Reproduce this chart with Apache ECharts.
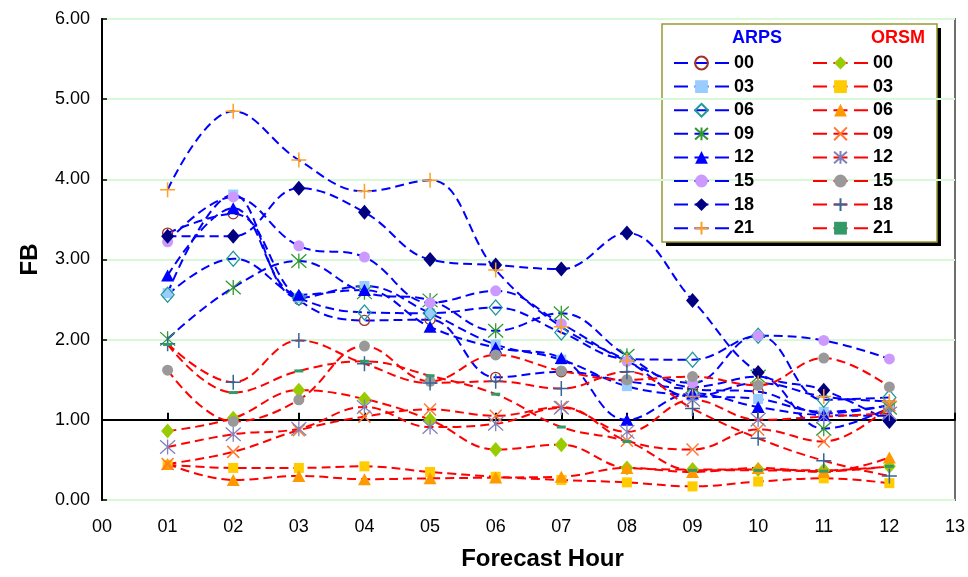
<!DOCTYPE html>
<html>
<head>
<meta charset="utf-8">
<script src="https://cdn.jsdelivr.net/npm/echarts@6/dist/echarts.min.js"></script>
<style>
  html, body { margin: 0; padding: 0; background: #fff; }
  #chart { width: 968px; height: 577px; }
</style>
</head>
<body>
<div id="chart"></div>
<script>
// Forecast hours shown on the horizontal axis
const hours = [1, 2, 3, 4, 5, 6, 7, 8, 9, 10, 11, 12];
const initTimes = ['00', '03', '06', '09', '12', '15', '18', '21'];

// FB values, ARPS model, one array per initialisation time
const arps00 = [3.33, 3.57, 2.50, 2.24, 2.25, 1.53, 1.60, 1.48, 1.38, 1.35, 1.08, 1.18];
const arps03 = [2.58, 3.81, 2.52, 2.67, 2.33, 1.94, 1.75, 1.42, 1.30, 1.26, 1.10, 1.18];
const arps06 = [2.56, 3.01, 2.52, 2.34, 2.33, 2.40, 2.09, 1.76, 1.75, 2.05, 1.25, 1.28];
const arps09 = [2.01, 2.65, 2.98, 2.59, 2.49, 2.11, 2.33, 1.80, 1.41, 1.54, 0.89, 1.15];
const arps12 = [2.80, 3.64, 2.56, 2.62, 2.16, 1.90, 1.77, 1.00, 1.33, 1.16, 1.06, 1.05];
const arps15 = [3.22, 3.78, 3.17, 3.03, 2.46, 2.61, 2.20, 1.73, 1.46, 2.05, 1.99, 1.76];
const arps18 = [3.29, 3.29, 3.89, 3.59, 3.00, 2.93, 2.88, 3.33, 2.49, 1.59, 1.37, 0.98];
const arps21 = [3.87, 4.85, 4.24, 3.85, 3.99, 2.87, 2.16, 1.74, 1.29, 1.46, 1.29, 1.23];

// FB values, ORSM model
const orsm00 = [0.86, 1.02, 1.37, 1.26, 1.00, 0.63, 0.69, 0.40, 0.38, 0.38, 0.37, 0.42];
const orsm03 = [0.44, 0.40, 0.40, 0.42, 0.35, 0.29, 0.25, 0.22, 0.17, 0.23, 0.27, 0.21];
const orsm06 = [0.45, 0.25, 0.30, 0.26, 0.27, 0.28, 0.29, 0.40, 0.35, 0.40, 0.35, 0.53];
const orsm09 = [0.45, 0.60, 0.87, 1.04, 1.13, 1.05, 1.16, 0.74, 0.63, 0.88, 0.73, 1.18];
const orsm12 = [0.66, 0.82, 0.89, 1.16, 0.91, 0.95, 1.15, 0.85, 1.25, 1.00, 1.04, 1.08];
const orsm15 = [1.62, 0.98, 1.25, 1.92, 1.48, 1.81, 1.61, 1.50, 1.54, 1.43, 1.77, 1.41];
const orsm18 = [1.95, 1.47, 1.99, 1.70, 1.46, 1.48, 1.39, 1.60, 1.14, 0.77, 0.49, 0.30];
const orsm21 = [1.94, 1.34, 1.61, 1.73, 1.55, 1.32, 0.91, 0.73, 0.37, 0.37, 0.36, 0.42];

const arpsValues = [arps00, arps03, arps06, arps09, arps12, arps15, arps18, arps21];
const orsmValues = [orsm00, orsm03, orsm06, orsm09, orsm12, orsm15, orsm18, orsm21];

// Marker shapes
const PLUS = 'path://M10,0L10,20M0,10L20,10';
const CROSS = 'path://M0,0L20,20M0,20L20,0';
const ASTER = 'path://M10,0L10,20M1,1L19,19M1,19L19,1';
const DASH = 'path://M0,0L30,0L30,10L0,10Z';

function markerStyle(kind, color) {
  switch (kind) {
    case 'ring':    return { symbol: 'circle', size: 10, item: { color: 'none', borderColor: color, borderWidth: 1.3 } };
    case 'hdiamond':return { symbol: 'diamond', size: [13, 15], item: { color: 'none', borderColor: color, borderWidth: 1.3 } };
    case 'square':  return { symbol: 'rect', size: 10, item: { color: color } };
    case 'diamond': return { symbol: 'diamond', size: [13, 15], item: { color: color } };
    case 'triangle':return { symbol: 'triangle', size: [13, 12], item: { color: color } };
    case 'dot':     return { symbol: 'circle', size: 11, item: { color: color } };
    case 'plus':    return { symbol: PLUS, size: 15, item: { color: 'none', borderColor: color, borderWidth: 1.5 } };
    case 'cross':   return { symbol: CROSS, size: 12, item: { color: 'none', borderColor: color, borderWidth: 1.5 } };
    case 'aster':   return { symbol: ASTER, size: 15, item: { color: 'none', borderColor: color, borderWidth: 1.3 } };
    case 'dash':    return { symbol: DASH, size: [9, 3], item: { color: color } };
  }
}

const arpsMarks = [
  ['ring', '#a0302a'], ['square', '#99ccff'], ['hdiamond', '#22999a'], ['aster', '#2e9a2e'],
  ['triangle', '#0000ff'], ['dot', '#cc99ff'], ['diamond', '#000080'], ['plus', '#ffa020']
];
const orsmMarks = [
  ['diamond', '#99cc00'], ['square', '#ffcc00'], ['triangle', '#ff9900'], ['cross', '#ff7a30'],
  ['aster', '#8080bb'], ['dot', '#999999'], ['plus', '#336699'], ['dash', '#339966']
];

function buildSeries(prefix, values, marks, lineColor) {
  return values.map((vals, i) => {
    const m = markerStyle(marks[i][0], marks[i][1]);
    return {
      name: prefix + ' ' + initTimes[i],
      type: 'line',
      smooth: 0.4,
      xAxisIndex: 0,
      yAxisIndex: 0,
      data: hours.map((h, k) => [h, vals[k]]),
      symbol: m.symbol,
      symbolSize: m.size,
      showAllSymbol: true,
      itemStyle: m.item,
      lineStyle: { color: lineColor, width: 2, type: [9, 5] },
      emphasis: { disabled: true },
      animation: false
    };
  });
}

const series = [
  ...buildSeries('ARPS', arpsValues, arpsMarks, '#0000ff'),
  ...buildSeries('ORSM', orsmValues, orsmMarks, '#ff0000')
];

const legendCommon = {
  orient: 'vertical',
  top: 48,
  itemWidth: 55,
  itemHeight: 16,
  itemGap: 3.6,
  selectedMode: false,
  symbolKeepAspect: true,
  formatter: name => name.slice(-2),
  lineStyle: { width: 2, type: [14, 6.5] },
  textStyle: { fontFamily: 'Arial, "Liberation Sans", sans-serif', fontWeight: 'bold', fontSize: 18, color: '#000', lineHeight: 20 }
};

const chart = echarts.init(document.getElementById('chart'), null, { renderer: 'canvas' });
chart.setOption({
  backgroundColor: '#fff',
  animation: false,
  grid: { left: 102, right: 11, top: 19, bottom: 77, show: true, borderColor: '#6e6e6e', borderWidth: 2 },
  xAxis: [
    {
      type: 'value', min: 0, max: 13, interval: 1,
      name: 'Forecast Hour', nameLocation: 'middle', nameGap: 47,
      nameTextStyle: { fontFamily: 'Arial, "Liberation Sans", sans-serif', fontWeight: 'bold', fontSize: 24, color: '#000', padding: [0, 0, 0, 28] },
      axisLine: { show: false, onZero: false },
      axisTick: { show: false },
      splitLine: { show: false },
      axisLabel: {
        margin: 18,
        fontFamily: '"Liberation Sans Narrow", "Arial Narrow", Arial, sans-serif',
        fontSize: 18, color: '#000',
        formatter: v => String(v).padStart(2, '0')
      }
    },
    {
      // reference line at FB = 1 with tick marks
      type: 'value', min: 0, max: 13, interval: 1,
      position: 'bottom',
      axisLine: { show: true, onZero: true, onZeroAxisIndex: 1, lineStyle: { color: '#000', width: 2 } },
      axisTick: { show: true, inside: true, length: 7, lineStyle: { color: '#000', width: 2 } },
      axisLabel: { show: false },
      splitLine: { show: false }
    }
  ],
  yAxis: [
    {
      type: 'value', min: 0, max: 6, interval: 1,
      name: 'FB', nameLocation: 'middle', nameGap: 60,
      nameTextStyle: { fontFamily: 'Arial, "Liberation Sans", sans-serif', fontWeight: 'bold', fontSize: 24, color: '#000' },
      axisLine: { show: true, lineStyle: { color: '#000', width: 2 } },
      axisTick: { show: true, inside: true, length: 5, lineStyle: { color: '#000', width: 1.5 } },
      axisLabel: { margin: 12, fontFamily: 'Arial, "Liberation Sans", sans-serif', fontSize: 18, color: '#000', formatter: v => v.toFixed(2) },
      splitLine: { show: true, lineStyle: { color: '#d8f8d8', width: 2 } }
    },
    {
      // shifted scale so that its zero sits at FB = 1
      type: 'value', min: -1, max: 5, show: false, splitLine: { show: false }
    }
  ],
  legend: [
    Object.assign({}, legendCommon, { left: 668, data: initTimes.map(t => 'ARPS ' + t) }),
    Object.assign({}, legendCommon, { left: 807, data: initTimes.map(t => 'ORSM ' + t) })
  ],
  graphic: [
    { type: 'rect', z: -1, shape: { x: 666, y: 28, width: 275, height: 218 }, style: { fill: '#000' } },
    { type: 'rect', z: 0, shape: { x: 662, y: 24, width: 275, height: 218 }, style: { fill: '#fff', stroke: '#999933', lineWidth: 1.5 } },
    { type: 'text', z: 1, x: 757, y: 38, style: { text: 'ARPS', fill: '#0000ff', font: 'bold 18px Arial, "Liberation Sans", sans-serif', align: 'center', verticalAlign: 'middle' } },
    { type: 'text', z: 1, x: 898, y: 38, style: { text: 'ORSM', fill: '#ff0000', font: 'bold 18px Arial, "Liberation Sans", sans-serif', align: 'center', verticalAlign: 'middle' } }
  ],
  series: series
});
</script>
</body>
</html>
